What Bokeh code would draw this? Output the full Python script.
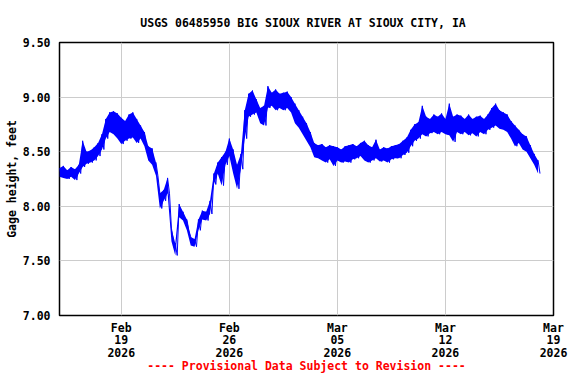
import pandas as pd
from bokeh.plotting import figure
from bokeh.models import FixedTicker, PrintfTickFormatter, ColumnDataSource
from bokeh.embed import file_html
from bokeh.resources import INLINE

# ---- data: gage height envelope, every 6 hours from 2026-02-15 00:00
start = "2026-02-15 00:00"
step_hours = 6
gage_high = [
    8.35, 8.37, 8.33, 8.36, 8.34, 8.38, 8.60, 8.50, 8.51, 8.54, 8.58, 8.66,
    8.80, 8.86, 8.87, 8.85, 8.81, 8.78, 8.84, 8.86, 8.80, 8.74, 8.68, 8.55,
    8.53, 8.40, 8.12, 8.15, 8.26, 7.80, 7.66, 8.02, 7.95, 7.88, 7.72, 7.70,
    7.88, 7.96, 7.95, 8.05, 8.30, 8.40, 8.45, 8.50, 8.62, 8.52, 8.38, 8.48,
    8.88, 9.03, 9.06, 8.98, 8.90, 8.92, 9.10, 9.04, 9.07, 9.03, 9.04, 9.05,
    9.00, 8.94, 8.88, 8.82, 8.76, 8.68, 8.58, 8.56, 8.57, 8.54, 8.56, 8.55,
    8.54, 8.52, 8.55, 8.56, 8.57, 8.55, 8.58, 8.60, 8.56, 8.54, 8.61, 8.52,
    8.54, 8.53, 8.55, 8.56, 8.57, 8.60, 8.63, 8.70, 8.75, 8.77, 8.92, 8.82,
    8.80, 8.84, 8.82, 8.85, 8.80, 8.94, 8.82, 8.84, 8.83, 8.80, 8.84, 8.80,
    8.82, 8.83, 8.80, 8.84, 8.90, 8.94, 8.88, 8.86, 8.84, 8.78, 8.74, 8.70,
    8.66, 8.64, 8.56, 8.48, 8.42,
]
gage_low = [
    8.27, 8.26, 8.25, 8.27, 8.24, 8.30, 8.36, 8.39, 8.40, 8.42, 8.46, 8.52,
    8.62, 8.68, 8.66, 8.62, 8.57, 8.60, 8.62, 8.63, 8.58, 8.62, 8.55, 8.42,
    8.38, 8.28, 7.98, 8.05, 8.12, 7.68, 7.55, 7.90, 7.87, 7.78, 7.64, 7.63,
    7.78, 7.88, 7.87, 7.93, 8.20, 8.30, 8.19, 8.38, 8.46, 8.30, 8.16, 8.34,
    8.62, 8.82, 8.84, 8.86, 8.76, 8.74, 8.90, 8.92, 8.88, 8.90, 8.88, 8.90,
    8.86, 8.76, 8.72, 8.66, 8.60, 8.54, 8.45, 8.44, 8.42, 8.40, 8.43, 8.37,
    8.42, 8.40, 8.41, 8.40, 8.43, 8.44, 8.46, 8.42, 8.40, 8.42, 8.44, 8.41,
    8.42, 8.40, 8.43, 8.44, 8.44, 8.47, 8.49, 8.55, 8.60, 8.62, 8.66, 8.64,
    8.67, 8.68, 8.66, 8.68, 8.66, 8.65, 8.59, 8.68, 8.66, 8.68, 8.65, 8.67,
    8.64, 8.68, 8.66, 8.70, 8.72, 8.74, 8.71, 8.70, 8.68, 8.62, 8.55, 8.58,
    8.52, 8.50, 8.44, 8.38, 8.30,
]
tick_dates = ["2026-02-19", "2026-02-26", "2026-03-05", "2026-03-12", "2026-03-19"]
tick_labels = ["Feb\n19\n2026", "Feb\n26\n2026", "Mar\n05\n2026", "Mar\n12\n2026", "Mar\n19\n2026"]
y_ticks = [7.0, 7.5, 8.0, 8.5, 9.0, 9.5]
x_start, x_end = "2026-02-15", "2026-03-19"
title_text = "USGS 06485950 BIG SIOUX RIVER AT SIOUX CITY,  IA"
y_label = "Gage height, feet"
note_text = "---- Provisional Data Subject to Revision ----"

# build the alternating high/low trace (readings 3 h apart)
t0 = pd.Timestamp(start)
times = [t0 + pd.Timedelta(hours=step_hours * i) for i in range(len(gage_high))]
xs, ys = [], []
for t, hi, lo in zip(times, gage_high, gage_low):
    xs.append(t)
    ys.append(hi)
    xs.append(t + pd.Timedelta(hours=step_hours / 2))
    ys.append(lo)
src = ColumnDataSource(dict(t=xs, h=ys))
band = ColumnDataSource(dict(t=times, hi=gage_high, lo=gage_low))

FONT = "DejaVu Sans Mono"
FS = "11.5px"

x0, x1 = pd.Timestamp(x_start), pd.Timestamp(x_end)
p = figure(width=568, height=376, x_axis_type="datetime",
           x_range=(x0, x1), y_range=(7.0, 9.5),
           output_backend="svg", toolbar_location=None,
           min_border_left=59, min_border_right=15, min_border_top=42, min_border_bottom=61)

p.varea(x="t", y1="lo", y2="hi", source=band, fill_color="#0000ff", fill_alpha=1.0)
p.line("t", "h", source=src, line_color="#0000ff", line_width=1)

tick_ms = [pd.Timestamp(d).value / 1e6 for d in tick_dates]
p.xaxis.ticker = FixedTicker(ticks=tick_ms)
p.xaxis.major_label_overrides = {ms: lab for ms, lab in zip(tick_ms, tick_labels)}
p.yaxis.ticker = FixedTicker(ticks=y_ticks)
p.yaxis.formatter = PrintfTickFormatter(format="%.2f")
p.xgrid.ticker = FixedTicker(ticks=tick_ms)
p.ygrid.ticker = FixedTicker(ticks=y_ticks)

for ax in (p.xaxis[0], p.yaxis[0]):
    ax.axis_line_color = None
    ax.major_tick_line_color = None
    ax.minor_tick_line_color = None
    ax.major_tick_out = 0
    ax.major_tick_in = 0
    ax.minor_tick_out = 0
    ax.major_label_text_font = FONT
    ax.major_label_text_font_style = "bold"
    ax.major_label_text_font_size = FS
    ax.major_label_text_color = "black"
    ax.axis_label_text_font = FONT
    ax.axis_label_text_font_style = "bold"
    ax.axis_label_text_font_size = FS

p.xaxis.major_label_standoff = 5
p.xaxis.major_label_text_line_height = 0.92
# red provisional-data note as the x-axis caption
p.xaxis.axis_label = note_text
p.xaxis.axis_label_text_color = "#ff0000"
p.xaxis.axis_label_standoff = -4
p.yaxis.major_label_standoff = 9
p.yaxis.axis_label = y_label
p.yaxis.axis_label_standoff = 1
p.yaxis.axis_label_text_color = "black"

for g in (p.xgrid[0], p.ygrid[0]):
    g.grid_line_color = "#cccccc"
    g.grid_line_width = 1

p.outline_line_color = "black"
p.outline_line_width = 1.5

p.title.text = title_text
p.title.align = "center"
p.title.text_font = FONT
p.title.text_font_style = "bold"
p.title.text_font_size = FS
p.title.text_color = "black"
p.title.standoff = 26

p.background_fill_color = "white"
p.border_fill_color = "white"

open("out.html", "w").write(file_html(p, INLINE))
